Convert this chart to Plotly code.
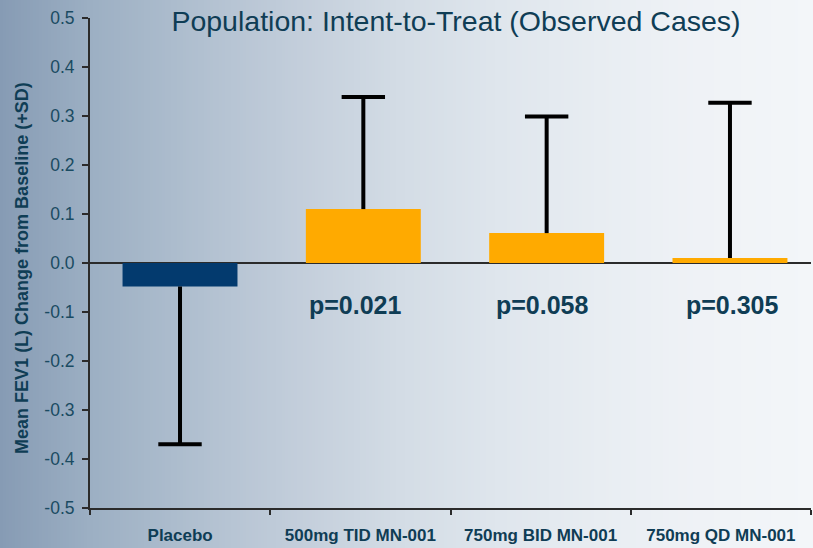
import numpy as np
import plotly.graph_objects as go

# ---- data ----
groups = ["Placebo", "500mg TID MN-001", "750mg BID MN-001", "750mg QD MN-001"]
mean_change = [-0.048, 0.110, 0.061, 0.010]
sd = [0.322, 0.229, 0.238, 0.317]
p_values = ["", "p=0.021", "p=0.058", "p=0.305"]
y_ticks = [0.5, 0.4, 0.3, 0.2, 0.1, 0.0, -0.1, -0.2, -0.3, -0.4, -0.5]
y_tick_text = ["0.5", "0.4", "0.3", "0.2", "0.1", "0.0", "-0.1", "-0.2", "-0.3", "-0.4", "-0.5"]

# ---- style ----
W, H = 813, 548
ML, MR, MT, MB = 90, 2, 18, 40
PW, PH = W - ML - MR, H - MT - MB
FONT = "Liberation Sans, Arial, Helvetica, sans-serif"
TEXT_DARK = "#0f3d55"
TICK_TEXT = "#1a4b62"
bar_colors = ["#033a6e", "#ffaa00", "#ffaa00", "#ffaa00"]
p_label_nudge = [0, -8, -4, 3]  # small horizontal nudges (px) for the p-value labels

fig = go.Figure()

# invisible anchor trace so the labelled category axis is laid out
fig.add_trace(go.Scatter(
    x=groups, y=mean_change, mode="markers", marker=dict(opacity=0),
    showlegend=False, hoverinfo="skip",
))

# bars sit on an overlaid category axis with slightly wider spacing
fig.add_trace(go.Bar(
    x=groups, y=mean_change, width=0.627, xaxis="x2",
    marker=dict(color=bar_colors, line=dict(width=0)),
    showlegend=False, hoverinfo="skip",
))

# +SD whiskers drawn away from zero, with a flat cap at the tip
wx, wy, tip_y = [], [], []
for g, m, s in zip(groups, mean_change, sd):
    tip = m + s if m >= 0 else m - s
    wx += [g, g, None]
    wy += [m, tip, None]
    tip_y.append(tip)

fig.add_trace(go.Scatter(
    x=wx, y=wy, mode="lines", xaxis="x2", line=dict(color="#000000", width=4),
    showlegend=False, hoverinfo="skip", cliponaxis=False,
))
fig.add_trace(go.Scatter(
    x=groups, y=tip_y, mode="markers", xaxis="x2",
    marker=dict(symbol="line-ew", size=31, line=dict(color="#000000", width=4)),
    showlegend=False, hoverinfo="skip", cliponaxis=False,
))

# p-value labels below the zero line
for g, p, dx in zip(groups, p_values, p_label_nudge):
    if p:
        fig.add_annotation(
            x=g, y=-0.085, text=p, showarrow=False, xref="x2", yref="y",
            xshift=dx,
            font=dict(family=FONT, size=25, color=TEXT_DARK, weight="bold"),
            xanchor="center", yanchor="middle",
        )

# y-axis title
fig.add_annotation(
    x=(22 - ML) / PW, y=0.49, xref="paper", yref="paper",
    text="Mean FEV1 (L) Change from Baseline (+SD)", textangle=-90,
    showarrow=False, xanchor="center", yanchor="middle",
    font=dict(family=FONT, size=18, color=TEXT_DARK, weight="bold"),
)

# horizontal slate-to-white backdrop across the whole canvas
stops_x = [0, 90, 200, 300, 400, 500, 600, 700, 813]
stops_r = [134, 156, 177, 195, 211, 223, 232, 239, 243]
stops_g = [155, 175, 192, 206, 220, 230, 237, 242, 246]
stops_b = [180, 195, 208, 219, 229, 237, 242, 246, 249]
shapes = []
step = 3
for px in range(0, W, step):
    c = px + step / 2
    r = int(round(np.interp(c, stops_x, stops_r)))
    gg = int(round(np.interp(c, stops_x, stops_g)))
    b = int(round(np.interp(c, stops_x, stops_b)))
    shapes.append(dict(
        type="rect", xref="paper", yref="paper", layer="below",
        x0=(px - ML) / PW, x1=(px + step + 0.6 - ML) / PW,
        y0=-MB / PH - 0.01, y1=1 + MT / PH + 0.01,
        fillcolor=f"rgb({r},{gg},{b})", line=dict(width=0),
    ))

fig.update_layout(
    width=W, height=H,
    margin=dict(l=ML, r=MR, t=MT, b=MB, autoexpand=False),
    paper_bgcolor="rgba(0,0,0,0)", plot_bgcolor="rgba(0,0,0,0)",
    shapes=shapes,
    title=dict(
        text="Population: Intent-to-Treat (Observed Cases)",
        x=456 / W, xanchor="center", y=1 - 21 / H, yanchor="middle",
        xref="container", yref="container",
        font=dict(family=FONT, size=28.5, color=TEXT_DARK),
    ),
    xaxis=dict(
        type="category", categoryorder="array", categoryarray=groups,
        range=[-0.5, 3.5], tickson="boundaries",
        showline=True, linecolor="#2b2b2b", linewidth=1.5,
        ticks="outside", ticklen=5, tickwidth=1.5, tickcolor="#2b2b2b",
        tickfont=dict(family=FONT, size=17, color=TEXT_DARK, weight="bold"),
        ticklabelstandoff=11,
        showgrid=False, zeroline=False, automargin=False, fixedrange=True,
    ),
    xaxis2=dict(
        type="category", categoryorder="array", categoryarray=groups,
        overlaying="x", range=[-0.491, 3.442],
        visible=False, showgrid=False, zeroline=False, fixedrange=True,
    ),
    yaxis=dict(
        range=[-0.5, 0.5], tickvals=y_ticks, ticktext=y_tick_text,
        showline=True, linecolor="#2b2b2b", linewidth=2,
        ticks="outside", ticklen=6, tickwidth=1.5, tickcolor="#2b2b2b",
        tickfont=dict(family=FONT, size=17.5, color=TICK_TEXT),
        ticklabelstandoff=4,
        showgrid=False, zeroline=True, zerolinecolor="#2b2b2b", zerolinewidth=1.5,
        automargin=False, fixedrange=True,
    ),
)

fig.write_html("out.html")
